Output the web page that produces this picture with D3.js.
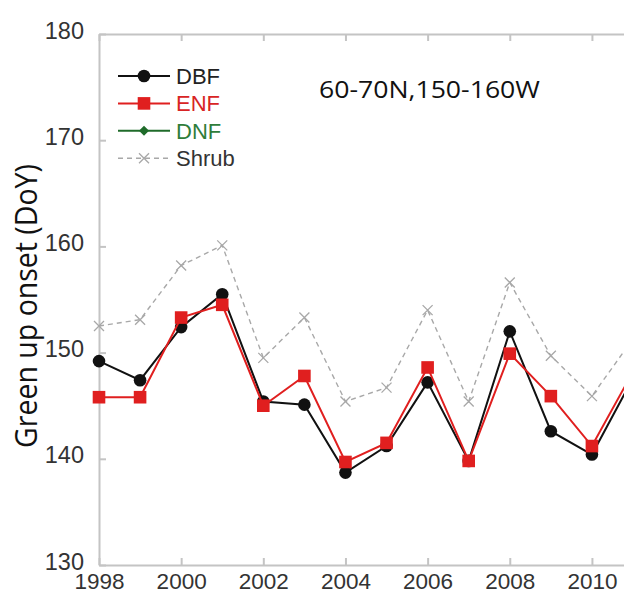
<!DOCTYPE html>
<html>
<head>
<meta charset="utf-8">
<script src="https://cdn.jsdelivr.net/npm/d3@7"></script>
<style>
  body { margin: 0; background: #fff; overflow: hidden; }
  svg { display: block; }
  .axis path, .axis line { stroke: #c4c4c4; stroke-width: 2; }
  .axis text { fill: #333; font-family: "Liberation Sans", Arial, sans-serif; font-size: 23.5px; }
  .axis.x text { font-size: 22.5px; }
</style>
</head>
<body>
<svg id="mySvg" width="624" height="595"></svg>
<script>
const years = [1998, 1999, 2000, 2001, 2002, 2003, 2004, 2005, 2006, 2007, 2008, 2009, 2010, 2011];
const dbfValues = [149.2, 147.4, 152.4, 155.5, 145.4, 145.1, 138.7, 141.2, 147.2, 139.8, 152.0, 142.6, 140.4, 147.6];
const enfValues = [145.8, 145.8, 153.3, 154.5, 145.0, 147.8, 139.7, 141.5, 148.6, 139.8, 149.9, 145.9, 141.2, 148.2];
const dnfValues = [];
const shrubValues = [152.5, 153.1, 158.2, 160.1, 149.5, 153.3, 145.4, 146.7, 154.0, 145.4, 156.6, 149.7, 145.9, 151.3];
const xTicks = [1998, 2000, 2002, 2004, 2006, 2008, 2010];
const yTicks = [130, 140, 150, 160, 170, 180];
const seriesNames = ["DBF", "ENF", "DNF", "Shrub"];

const svg = d3.select("#mySvg");

const margin = { top: 34, left: 99 },
  width = 534, // plot runs a bit past the window on the right
  height = 531;

const x = d3.scaleLinear().domain([1998, 2011]).range([0, width]);
const y = d3.scaleLinear().domain([130, 180]).range([height, 0]);

const g = svg.append("g").attr("transform", `translate(${margin.left},${margin.top})`);

// axes, ticks pointing inward
g.append("g")
  .attr("class", "axis x")
  .attr("transform", `translate(0,${height})`)
  .call(d3.axisBottom(x).tickValues(xTicks).tickFormat(d3.format("d")).tickSizeInner(-7).tickSizeOuter(0).tickPadding(8));

g.append("g")
  .attr("class", "axis")
  .call(d3.axisTop(x).tickValues(xTicks).tickFormat("").tickSizeInner(-7).tickSizeOuter(0));

g.append("g")
  .attr("class", "axis")
  .call(d3.axisLeft(y).tickValues(yTicks).tickSizeInner(-7).tickSizeOuter(0).tickPadding(15))
  .selectAll("text")
  .attr("dy", "0.17em");

const series = [
  { name: "Shrub", values: shrubValues, color: "#a8a8a8", width: 1.4, dash: "5,4", marker: "x", text: "#333" },
  { name: "DNF", values: dnfValues, color: "#1f6b2a", width: 2, dash: null, marker: "diamond", text: "#2f7d3a" },
  { name: "DBF", values: dbfValues, color: "#111", width: 2, dash: null, marker: "circle", text: "#222" },
  { name: "ENF", values: enfValues, color: "#e01f1f", width: 2, dash: null, marker: "square", text: "#d82424" }
];

const line = d3.line().x((d) => x(d[0])).y((d) => y(d[1]));

function drawMarker(sel, type, color) {
  if (type === "circle") {
    sel.append("circle").attr("r", 6.3).attr("fill", color);
  } else if (type === "square") {
    sel.append("rect").attr("x", -6.3).attr("y", -6.3).attr("width", 12.6).attr("height", 12.6).attr("fill", color);
  } else if (type === "diamond") {
    sel.append("path").attr("d", "M0,-5L5,0L0,5L-5,0Z").attr("fill", color);
  } else {
    sel.append("path").attr("d", "M-5,-5L5,5M-5,5L5,-5").attr("stroke", color).attr("stroke-width", 1.3);
  }
}

series.forEach((s) => {
  const pts = s.values.map((v, i) => [years[i], v]);
  g.append("path")
    .datum(pts)
    .attr("fill", "none")
    .attr("stroke", s.color)
    .attr("stroke-width", s.width)
    .attr("stroke-dasharray", s.dash)
    .attr("d", line);
  g.selectAll(null)
    .data(pts)
    .enter()
    .append("g")
    .attr("transform", (d) => `translate(${x(d[0])},${y(d[1])})`)
    .each(function () {
      drawMarker(d3.select(this), s.marker, s.color);
    });
});

// legend
const legend = svg.append("g").attr("transform", "translate(118,76)");
seriesNames.forEach((name, i) => {
  const s = series.find((d) => d.name === name);
  const row = legend.append("g").attr("transform", `translate(0,${i * 27.4})`);
  row.append("line")
    .attr("x1", 0).attr("x2", 52)
    .attr("stroke", s.color)
    .attr("stroke-width", s.width)
    .attr("stroke-dasharray", s.dash);
  drawMarker(row.append("g").attr("transform", "translate(26,0)"), s.marker, s.color);
  row.append("text")
    .attr("x", 58)
    .attr("dy", "0.36em")
    .attr("fill", s.text)
    .style("font-family", "'Liberation Sans', Arial, sans-serif")
    .style("font-size", "22px")
    .text(name);
});

svg.append("text")
  .attr("transform", "translate(319,98) scale(1.11,1)")
  .attr("fill", "#111")
  .style("font-family", "'Open Sans', sans-serif")
  .style("font-size", "24px")
  .text("60-70N,150-160W");

svg.append("text")
  .attr("transform", "translate(37,306) scale(1.11,1) rotate(-90)")
  .attr("text-anchor", "middle")
  .attr("fill", "#111")
  .style("font-family", "'Open Sans', sans-serif")
  .style("font-size", "28.5px")
  .text("Green up onset (DoY)");
</script>
</body>
</html>
